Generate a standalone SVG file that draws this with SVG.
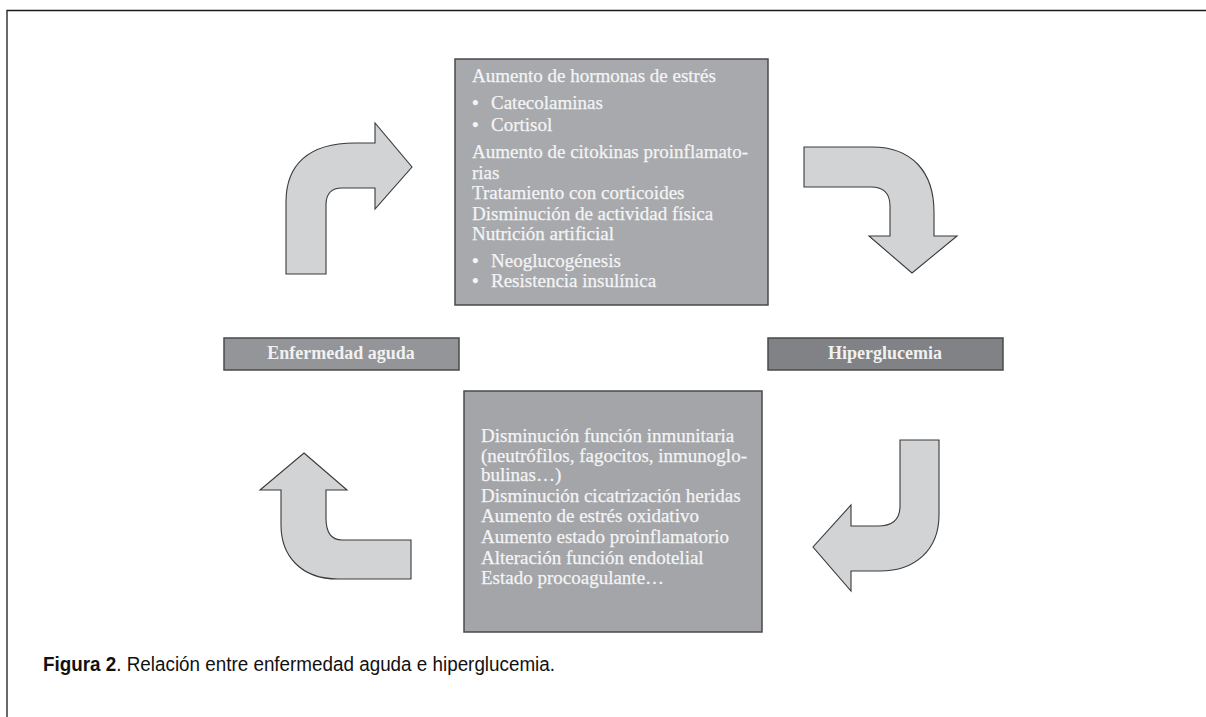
<svg xmlns="http://www.w3.org/2000/svg" width="1206" height="717" viewBox="0 0 1206 717">
<style>
.frame{stroke:#1a1a1a;stroke-width:1.3;fill:none}
.box{stroke:#4a4a4a;stroke-width:1.5}
.txt{font-family:"Liberation Serif","Times New Roman",serif;font-size:19px;fill:#f4f4f5;stroke:#f4f4f5;stroke-width:0.25}
.bul{font-family:"Liberation Serif","Times New Roman",serif;font-size:19px;font-weight:bold;fill:#f4f4f5}
.lbl{font-family:"Liberation Serif","Times New Roman",serif;font-size:18px;font-weight:bold;fill:#f1f1f2;text-anchor:middle}
.arrow{fill:#d1d3d4;stroke:#3a3a3a;stroke-width:1.1;stroke-linejoin:miter}
.cap{font-family:"Liberation Sans",Arial,sans-serif;font-size:20px;fill:#111}
</style>
<rect width="1206" height="717" fill="#ffffff"/>
<path class="frame" d="M7,717 L7,10.5 L1206,10.5"/>

<g id="node-top">
<rect class="box" x="455" y="59" width="313" height="246" fill="#a7a9ac"/>
<text class="txt" x="472" y="82">Aumento de hormonas de estrés</text>
<text class="bul" x="472" y="109">•</text><text class="txt" x="491" y="109">Catecolaminas</text>
<text class="bul" x="472" y="131">•</text><text class="txt" x="491" y="131">Cortisol</text>
<text class="txt" x="472" y="158">Aumento de citokinas proinflamato-</text>
<text class="txt" x="472" y="179">rias</text>
<text class="txt" x="472" y="199">Tratamiento con corticoides</text>
<text class="txt" x="472" y="220">Disminución de actividad física</text>
<text class="txt" x="472" y="240">Nutrición artificial</text>
<text class="bul" x="472" y="267">•</text><text class="txt" x="491" y="267">Neoglucogénesis</text>
<text class="bul" x="472" y="287">•</text><text class="txt" x="491" y="287">Resistencia insulínica</text>
</g>

<g id="node-bottom">
<rect class="box" x="464" y="391" width="298" height="241" fill="#a3a5a8"/>
<text class="txt" x="481" y="442">Disminución función inmunitaria</text>
<text class="txt" x="481" y="462">(neutrófilos, fagocitos, inmunoglo-</text>
<text class="txt" x="481" y="481">bulinas…)</text>
<text class="txt" x="481" y="502">Disminución cicatrización heridas</text>
<text class="txt" x="481" y="522">Aumento de estrés oxidativo</text>
<text class="txt" x="481" y="543">Aumento estado proinflamatorio</text>
<text class="txt" x="481" y="564">Alteración función endotelial</text>
<text class="txt" x="481" y="584">Estado procoagulante…</text>
</g>

<g id="node-enfermedad">
<rect class="box" x="224" y="338" width="235" height="32" fill="#939598"/>
<text class="lbl" x="341" y="359">Enfermedad aguda</text>
</g>

<g id="node-hiperglucemia">
<rect class="box" x="768" y="338" width="235" height="32" fill="#808285"/>
<text class="lbl" x="885" y="359">Hiperglucemia</text>
</g>

<g id="connectors">
<path class="arrow" d="M286,274 L286,202 C286,165 308,143 355,143 L375,143 L375,123 L412,167 L375,209 L375,188 L342,188 Q326,188 326,205 L326,274 Z"/>
<path class="arrow" d="M804,147 L872,147 C912,147 934,172 934,212 L934,236 L957,236 L912,273 L869,236 L890,236 L890,206 Q890,187 871,187 L804,187 Z"/>
<path class="arrow" d="M900,440 L939,440 L939,515 C939,550 915,571 880,571 L851,571 L851,591 L813,547 L851,505 L851,526 L878,526 Q900,526 900,506 Z"/>
<path class="arrow" d="M304,453 L347,490 L326,490 L326,518 Q326,540 342,540 L411,540 L411,579 L338,579 C300,579 281,555 281,525 L281,490 L260,490 Z"/>
</g>

<text class="cap" x="43" y="671" textLength="512" lengthAdjust="spacingAndGlyphs"><tspan font-weight="bold">Figura 2</tspan>. Relación entre enfermedad aguda e hiperglucemia.</text>
</svg>
